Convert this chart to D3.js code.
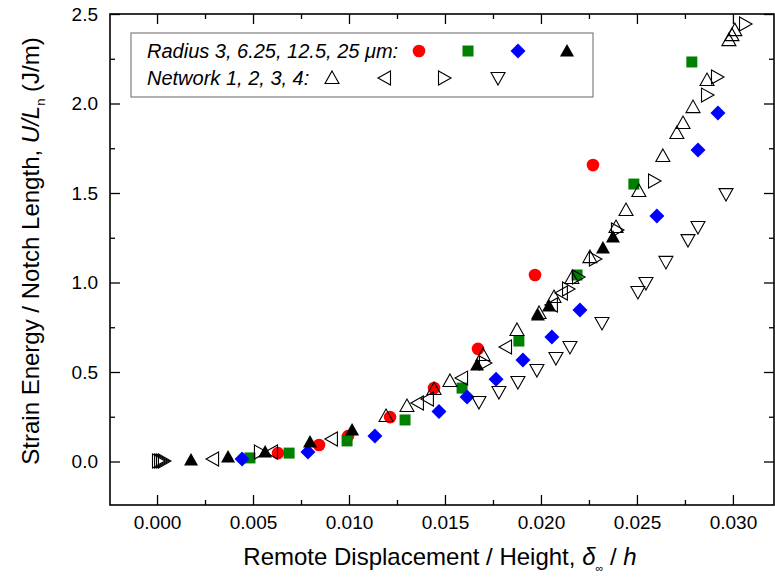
<!DOCTYPE html>
<html>
<head>
  <meta charset="utf-8">
  <title>Strain energy vs remote displacement</title>
  <script src="https://d3js.org/d3.v7.min.js"></script>
  <style>
body { margin: 0; background: #fff; }
text { font-family: Arial, "Liberation Sans", sans-serif; fill: #000; }
.tick line { stroke: #000; stroke-width: 1.3; }
  </style>
</head>
<body>
<div id="chart"></div>
<script>
// values: displacement ratio (x) and strain energy per notch length (y)
var radius3_x  = [0.0063, 0.00844, 0.00995, 0.01214, 0.01443, 0.01672, 0.01969, 0.02271];
var radius3_y  = [0.047, 0.092, 0.142, 0.248, 0.411, 0.629, 1.042, 1.656];
var radius6_x  = [0.00484, 0.00688, 0.0099, 0.01292, 0.01589, 0.01885, 0.02188, 0.02484, 0.02786];
var radius6_y  = [0.020, 0.047, 0.115, 0.232, 0.410, 0.673, 1.042, 1.550, 2.232];
var radius12_x = [0.00443, 0.00786, 0.01135, 0.01469, 0.01615, 0.01766, 0.01906, 0.02057, 0.02203, 0.02604, 0.02818, 0.02922];
var radius12_y = [0.014, 0.053, 0.142, 0.280, 0.360, 0.460, 0.567, 0.695, 0.846, 1.371, 1.740, 1.947];
var radius25_x = [0.00177, 0.0037, 0.00563, 0.00797, 0.01016, 0.01667, 0.01984, 0.02042, 0.02323, 0.02375];
var radius25_y = [0.008, 0.025, 0.053, 0.109, 0.176, 0.539, 0.818, 0.869, 1.193, 1.254];
var net1_x = [0.01193, 0.01302, 0.01443, 0.01526, 0.01698, 0.01875, 0.0199, 0.02068, 0.02161, 0.02255, 0.02391, 0.02443,
              0.0251, 0.02635, 0.02708, 0.0274, 0.02792, 0.02865, 0.02979, 0.02995, 0.0301];
var net1_y = [0.254, 0.310, 0.405, 0.450, 0.595, 0.735, 0.830, 0.919, 1.025, 1.142, 1.310, 1.405,
              1.511, 1.707, 1.835, 1.891, 1.980, 2.131, 2.354, 2.382, 2.410];
var net2_x = [0.00292, 0.00599, 0.00911, 0.01359, 0.01411, 0.01589, 0.01818, 0.02057, 0.02109];
var net2_y = [0.014, 0.053, 0.126, 0.327, 0.349, 0.466, 0.640, 0.874, 0.941];
var net3_x = [0.00005, 0.00016, 0.00026, 0.00036, 0.00536, 0.01708, 0.02141, 0.02193, 0.02281, 0.02396, 0.02589, 0.02865, 0.02917, 0.03063];
var net3_y = [0.003, 0.003, 0.003, 0.003, 0.053, 0.550, 0.964, 1.031, 1.131, 1.293, 1.567, 2.047, 2.148, 2.444];
var net4_x = [0.01677, 0.01781, 0.0188, 0.01979, 0.02078, 0.02151, 0.02318, 0.02505, 0.02547, 0.02651, 0.02766, 0.02818, 0.02964];
var net4_y = [0.332, 0.388, 0.444, 0.511, 0.578, 0.640, 0.774, 0.947, 0.997, 1.115, 1.237, 1.310, 1.494];

var xMajor = [0, 0.005, 0.01, 0.015, 0.02, 0.025, 0.03];
var xMinor = [0.0025, 0.0075, 0.0125, 0.0175, 0.0225, 0.0275];
var yMajor = [0, 0.5, 1.0, 1.5, 2.0, 2.5];
var yMinor = [0.25, 0.75, 1.25, 1.75, 2.25];

var w = 775, h = 585;
var L = 110, R = 774, T = 14, B = 505;

var svg = d3.select("#chart").append("svg")
  .attr("width", w)
  .attr("height", h);

var x = d3.scaleLinear().domain([-0.00245, 0.03214]).range([L, R]);
var y = d3.scaleLinear().domain([-0.243, 2.5]).range([B, T]);

// marker shapes, drawn around (0,0)
var shapes = {
  circle: d3.symbol().type(d3.symbolCircle).size(Math.PI * 6.3 * 6.3)(),
  square: "M-5.5,-5.5H5.5V5.5H-5.5Z",
  diamond: "M0,-7.5L7.5,0L0,7.5L-7.5,0Z",
  up: "M0,-7L7,5.5L-7,5.5Z",
  left: "M-7,0L5.5,-7L5.5,7Z",
  right: "M7,0L-5.5,-7L-5.5,7Z",
  down: "M0,7L7,-5.5L-7,-5.5Z"
};

var series = [
  {xs: radius3_x,  ys: radius3_y,  shape: "circle",  fill: "#ff0000"},
  {xs: radius6_x,  ys: radius6_y,  shape: "square",  fill: "#008000"},
  {xs: radius12_x, ys: radius12_y, shape: "diamond", fill: "#0000ff"},
  {xs: radius25_x, ys: radius25_y, shape: "up",      fill: "#000"},
  {xs: net1_x, ys: net1_y, shape: "up",    fill: "none"},
  {xs: net2_x, ys: net2_y, shape: "left",  fill: "none"},
  {xs: net3_x, ys: net3_y, shape: "right", fill: "none"},
  {xs: net4_x, ys: net4_y, shape: "down",  fill: "none"}
];

// axes with inward ticks on all four sides
function noLabel() { return ""; }
svg.append("g").attr("transform", "translate(0," + B + ")")
  .call(d3.axisBottom(x).tickValues(xMajor).tickSize(-10).tickPadding(11).tickFormat(d3.format(".3f")));
svg.append("g").attr("transform", "translate(0," + B + ")")
  .call(d3.axisBottom(x).tickValues(xMinor).tickSize(-5).tickFormat(noLabel));
svg.append("g").attr("transform", "translate(0," + T + ")")
  .call(d3.axisTop(x).tickValues(xMajor).tickSize(-10).tickFormat(noLabel));
svg.append("g").attr("transform", "translate(0," + T + ")")
  .call(d3.axisTop(x).tickValues(xMinor).tickSize(-5).tickFormat(noLabel));
svg.append("g").attr("transform", "translate(" + L + ",0)")
  .call(d3.axisLeft(y).tickValues(yMajor).tickSize(-10).tickPadding(12).tickFormat(d3.format(".1f")));
svg.append("g").attr("transform", "translate(" + L + ",0)")
  .call(d3.axisLeft(y).tickValues(yMinor).tickSize(-5).tickFormat(noLabel));
svg.append("g").attr("transform", "translate(" + R + ",0)")
  .call(d3.axisRight(y).tickValues(yMajor).tickSize(-10).tickFormat(noLabel));
svg.append("g").attr("transform", "translate(" + R + ",0)")
  .call(d3.axisRight(y).tickValues(yMinor).tickSize(-5).tickFormat(noLabel));
svg.selectAll(".domain").remove();
svg.selectAll(".tick text").style("font-size", "19px")
  .style("font-family", "Arial, 'Liberation Sans', sans-serif");

svg.append("rect")
  .attr("x", L).attr("y", T)
  .attr("width", R - L).attr("height", B - T)
  .attr("fill", "none").attr("stroke", "#000").attr("stroke-width", 1.6);

// markers
series.forEach(function(s) {
  var pts = s.xs.map(function(v, i) { return [v, s.ys[i]]; });
  svg.append("g").selectAll("path").data(pts).enter()
    .append("path")
      .attr("d", shapes[s.shape])
      .attr("transform", function(d) { return "translate(" + x(d[0]) + "," + y(d[1]) + ")"; })
      .attr("fill", s.fill)
      .attr("stroke", s.fill === "none" ? "#000" : "none")
      .attr("stroke-width", 1.1);
});

// legend
var leg = svg.append("g");
leg.append("rect")
  .attr("x", 131).attr("y", 33).attr("width", 462).attr("height", 64)
  .attr("fill", "#fff").attr("stroke", "#808080").attr("stroke-width", 1.2);
leg.append("text").attr("x", 147).attr("y", 58)
  .style("font-size", "20px").style("font-style", "italic")
  .text("Radius 3, 6.25, 12.5, 25 \u03bcm:");
leg.append("text").attr("x", 147).attr("y", 85)
  .style("font-size", "20px").style("font-style", "italic")
  .text("Network 1, 2, 3, 4:");
var legItems = [
  [419, 51, series[0]], [468, 51, series[1]], [518, 51, series[2]], [567, 51, series[3]],
  [332, 78, series[4]], [385, 78, series[5]], [444, 78, series[6]], [498, 78, series[7]]
];
leg.selectAll("path").data(legItems).enter()
  .append("path")
    .attr("d", function(d) { return shapes[d[2].shape]; })
    .attr("transform", function(d) { return "translate(" + d[0] + "," + d[1] + ")"; })
    .attr("fill", function(d) { return d[2].fill; })
    .attr("stroke", function(d) { return d[2].fill === "none" ? "#000" : "none"; })
    .attr("stroke-width", 1.1);

// axis titles
var xt = svg.append("text")
  .attr("x", (L + R) / 2 - 2).attr("y", 565)
  .attr("text-anchor", "middle")
  .style("font-size", "24px");
xt.append("tspan").text("Remote Displacement / Height, ");
xt.append("tspan").style("font-style", "italic").text("\u03b4");
xt.append("tspan").attr("dy", 7).style("font-size", "11px").text("\u221e");
xt.append("tspan").attr("dy", -7).text(" / ");
xt.append("tspan").style("font-style", "italic").text("h");

var yt = svg.append("text")
  .attr("transform", "translate(39,251) rotate(-90)")
  .attr("text-anchor", "middle")
  .style("font-size", "24px");
yt.append("tspan").text("Strain Energy / Notch Length, ");
yt.append("tspan").style("font-style", "italic").text("U/L");
yt.append("tspan").attr("dy", 6).style("font-size", "13px").text("n");
yt.append("tspan").attr("dy", -6).text(" (J/m)");
</script>
</body>
</html>
